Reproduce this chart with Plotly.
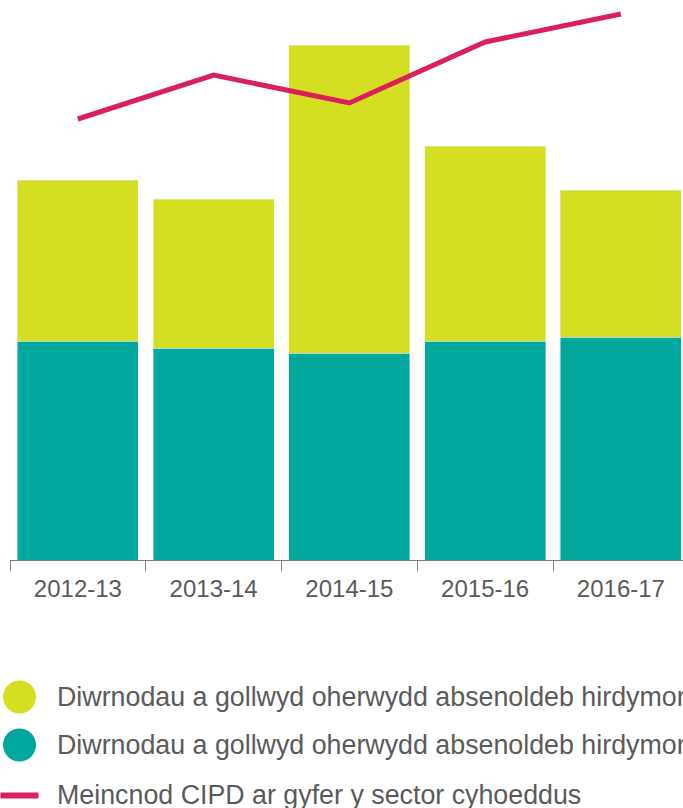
import plotly.graph_objects as go

categories = ["2012-13", "2013-14", "2014-15", "2015-16", "2016-17"]
teal_values = [4.38, 4.24, 4.14, 4.38, 4.46]
yellow_values = [3.22, 2.98, 6.16, 3.90, 2.94]
cipd_values = [8.82, 9.70, 9.14, 10.36, 10.92]

legend_labels = [
    "Diwrnodau a gollwyd oherwydd absenoldeb hirdymor",
    "Diwrnodau a gollwyd oherwydd absenoldeb hirdymor",
    "Meincnod CIPD ar gyfer y sector cyhoeddus",
]

YELLOW = "#D5DF22"
TEAL = "#00A79D"
PINK = "#DB1F5E"
FONT = "Liberation Sans, Arial, sans-serif"

fig = go.Figure()
fig.add_trace(go.Bar(x=categories, y=teal_values, marker_color=TEAL, width=0.891,
                     name=legend_labels[1], showlegend=False))
fig.add_trace(go.Bar(x=categories, y=yellow_values, marker_color=YELLOW, width=0.891,
                     name=legend_labels[0], showlegend=False))
fig.add_trace(go.Scatter(x=categories, y=cipd_values, mode="lines",
                         line=dict(color=PINK, width=5), name=legend_labels[2],
                         showlegend=False, cliponaxis=False))

W, H = 683, 808
L, R, T, B = 10, 0, 0, 248
pw = W - L - R
ph = H - T - B


def px_x(px):
    return (px - L) / pw


def px_y(py):
    return (H - B - py) / ph


shapes = []
annotations = []
colors = [YELLOW, TEAL]
ys = [697, 745]
for c, y in zip(colors, ys):
    shapes.append(dict(type="circle", xref="paper", yref="paper",
                       xsizemode="pixel", ysizemode="pixel",
                       xanchor=px_x(19.5), yanchor=px_y(y),
                       x0=-16.5, x1=16.5, y0=-16.5, y1=16.5,
                       fillcolor=c, line=dict(width=0)))
shapes.append(dict(type="line", xref="paper", yref="paper",
                   xsizemode="pixel", xanchor=px_x(0),
                   x0=0.5, x1=38.5, y0=px_y(795.5), y1=px_y(795.5),
                   line=dict(color=PINK, width=6)))
for lab, y in zip(legend_labels, [697, 745, 795]):
    annotations.append(dict(text=lab, xref="paper", yref="paper",
                            x=px_x(55), y=px_y(y), xanchor="left", yanchor="middle",
                            showarrow=False, font=dict(family=FONT, size=26.8, color="#5a5a5a")))

fig.update_layout(
    width=W, height=H,
    margin=dict(l=L, r=R, t=T, b=B, pad=0),
    barmode="stack",
    plot_bgcolor="white", paper_bgcolor="white",
    showlegend=False,
    shapes=shapes,
    annotations=annotations,
    xaxis=dict(type="category", range=[-0.5, -0.5 + pw / 135.75],
               tickson="boundaries", ticks="outside", ticklen=10, tickcolor="#7f7f7f",
               showline=True, linecolor="#7f7f7f", linewidth=1,
               showgrid=False, zeroline=False, ticklabelstandoff=7,
               tickfont=dict(family=FONT, size=24, color="#5a5a5a")),
    yaxis=dict(range=[0, ph / 50], visible=False, showgrid=False, zeroline=False),
)

fig.write_html("out.html", config={"displayModeBar": False},
               post_script="document.body.style.margin='0';document.body.style.overflow='hidden';")
